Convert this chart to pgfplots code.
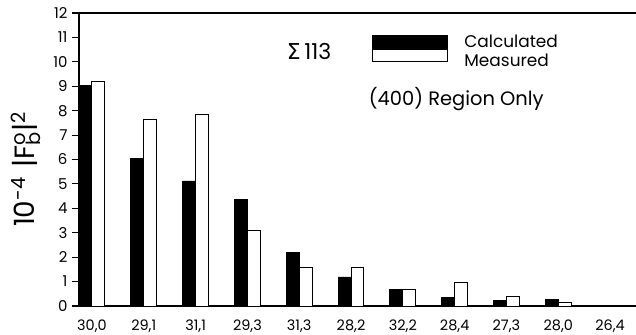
\documentclass[border=0pt]{standalone}
\usepackage{pgfplots}
\pgfplotsset{compat=1.18}
\usepackage{fontspec}
\setmainfont{Poppins}
\newfontfamily\dejavu{DejaVu Sans}
\begin{document}
\begin{tikzpicture}
\begin{axis}[
  scale only axis, width=557bp, height=293bp,
  xmin=-0.25, xmax=10.5, ymin=0, ymax=12,
  axis x line*=bottom, axis y line*=left,
  axis line style={line width=1.3pt},
  ytick={0,...,12}, xtick={0,...,10},
  xticklabels={{30,0},{29,1},{31,1},{29,3},{31,3},{28,2},{32,2},{28,4},{27,3},{28,0},{26,4}},
  tick align=outside, major tick length=7bp,
  y tick style={line width=1.1pt, black},
  x tick style={draw=none},
  yticklabel style={font=\fontsize{15}{15}\selectfont, xshift=-1bp},
  xticklabel style={font=\fontsize{14.5}{14.5}\selectfont, yshift=-3bp},
  /pgf/number format/assume math mode=true,
  ylabel={10\textsuperscript{-4}\,\,|F\rlap{\textsuperscript{o}}\textsubscript{b}|\textsuperscript{2}},
  ylabel style={at={(axis description cs:-0.095,0.466)}, rotate=0, anchor=center, font=\fontsize{28}{28}\selectfont},
  clip=false,
  ybar, bar width=0.25,
]
\addplot[bar shift=-0.125, fill=black, draw=black, line width=0.8pt] coordinates {
(0,9.05) (1,6.05) (2,5.12) (3,4.38) (4,2.18) (5,1.19) (6,0.67) (7,0.35) (8,0.23) (9,0.26) (10,0.04)};
\addplot[bar shift=0.125, fill=white, draw=black, line width=1pt] coordinates {
(0,9.18) (1,7.62) (2,7.83) (3,3.11) (4,1.58) (5,1.58) (6,0.67) (7,0.95) (8,0.37) (9,0.14) (10,0.03)};
\draw[line width=1.3pt] (rel axis cs:0,1) -- (rel axis cs:1,1);
\node[font=\fontsize{22}{22}\selectfont] at (axis cs:4.19,10.42) {{\dejavu\fontsize{22}{22}\selectfont Σ}\,113};
\fill[black] (axis cs:5.41,10.48) rectangle (axis cs:6.87,11.06);
\draw[line width=1pt] (axis cs:5.41,10.03) rectangle (axis cs:6.87,11.06);
\node[anchor=west, font=\fontsize{17}{17}\selectfont] at (axis cs:7.12,10.85) {Calculated};
\node[anchor=west, font=\fontsize{17}{17}\selectfont] at (axis cs:7.12,10.05) {Measured};
\node[font=\fontsize{19.5}{19.5}\selectfont] at (axis cs:7.03,8.46) {(400) Region Only};
\end{axis}
\pgfresetboundingbox
\path ([xshift=-79bp,yshift=-29bp]current axis.south west) rectangle ([yshift=13bp]current axis.north east);
\end{tikzpicture}
\end{document}
